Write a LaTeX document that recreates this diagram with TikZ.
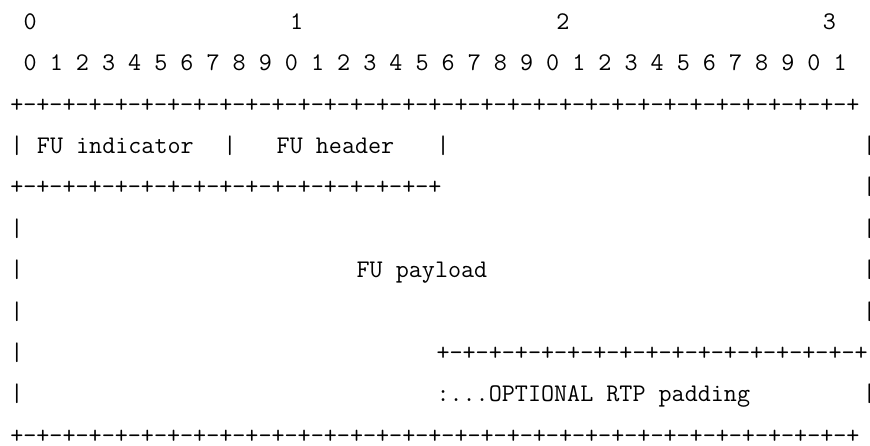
\documentclass[tikz,border=0pt]{standalone}
\begin{document}
\begin{tikzpicture}[x=1pt,y=-1pt,
  asc/.style={anchor=base west,inner sep=0pt,outer sep=0pt,
    font=\ttfamily\fontsize{25.37}{30}\selectfont},
  edgebar/.style={anchor=base,inner sep=0pt,outer sep=0pt,
    font=\ttfamily\fontsize{25.37}{30}\selectfont}]
\useasboundingbox[fill=white] (0,0) rectangle (870,446);
% row 0
\node[asc] (r0a) at ({10.3+13.32*1},29.3) {0};
\node[asc] (r0b) at ({10.3+13.32*21},29.3) {1};
\node[asc] (r0c) at ({10.3+13.32*41},29.3) {2};
\node[asc] (r0d) at ({10.3+13.32*61},29.3) {3};
% row 1
\node[asc] (r1) at ({10.3+13.32*1},70.7) {0 1 2 3 4 5 6 7 8 9 0 1 2 3 4 5 6 7 8 9 0 1 2 3 4 5 6 7 8 9 0 1};
% row 2
\node[asc] (r2) at (10.3,112.1) {+-+-+-+-+-+-+-+-+-+-+-+-+-+-+-+-+-+-+-+-+-+-+-+-+-+-+-+-+-+-+-+-+};
% row 3
\node[asc] (r3a) at (10.3,153.5) {|};
\node[asc] (r3b) at ({10.3+13.32*2},153.5) {FU indicator};
\node[asc] (r3c) at ({10.3+13.32*16},153.5) {|};
\node[asc] (r3d) at ({10.3+13.32*20},153.5) {FU header};
\node[asc] (r3e) at ({10.3+13.32*32},153.5) {|};
\node[edgebar] (r3f) at ({16.96+13.32*64},153.5) {\makebox[0pt]{|}};
% row 4
\node[asc] (r4a) at (10.3,194.9) {+-+-+-+-+-+-+-+-+-+-+-+-+-+-+-+-+};
\node[edgebar] (r4b) at ({16.96+13.32*64},194.9) {\makebox[0pt]{|}};
% row 5
\node[asc] (r5a) at (10.3,236.3) {|};
\node[edgebar] (r5b) at ({16.96+13.32*64},236.3) {\makebox[0pt]{|}};
% row 6
\node[asc] (r6a) at (10.3,277.7) {|};
\node[asc] (r6b) at ({10.3+13.32*26},277.7) {FU payload};
\node[edgebar] (r6c) at ({16.96+13.32*64},277.7) {\makebox[0pt]{|}};
% row 7
\node[asc] (r7a) at (10.3,319.1) {|};
\node[edgebar] (r7b) at ({16.96+13.32*64},319.1) {\makebox[0pt]{|}};
% row 8
\node[asc] (r8a) at (10.3,360.5) {|};
\node[asc] (r8b) at ({10.3+13.32*32},360.5) {+-+-+-+-+-+-+-+-+-+-+-+-+-+-+-+-+};
% row 9
\node[asc] (r9a) at (10.3,401.9) {|};
\node[asc] (r9b) at ({10.3+13.32*32},401.9) {:...OPTIONAL RTP padding};
\node[edgebar] (r9c) at ({16.96+13.32*64},401.9) {\makebox[0pt]{|}};
% row 10
\node[asc] (r10) at (10.3,443.3) {+-+-+-+-+-+-+-+-+-+-+-+-+-+-+-+-+-+-+-+-+-+-+-+-+-+-+-+-+-+-+-+-+};
\end{tikzpicture}
\end{document}
